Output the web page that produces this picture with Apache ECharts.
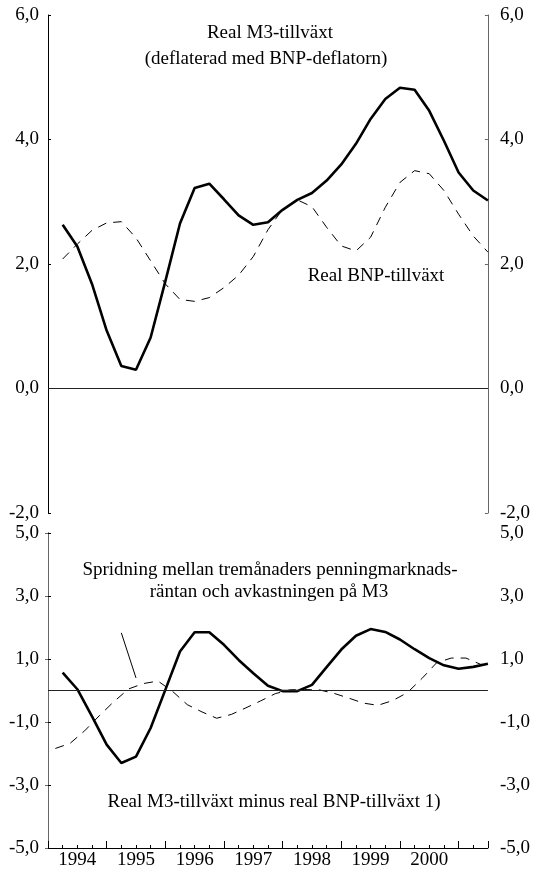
<!DOCTYPE html>
<html>
<head>
<meta charset="utf-8">
<script src="https://cdn.jsdelivr.net/npm/echarts@6/dist/echarts.min.js"></script>
<style>
  html, body { margin: 0; padding: 0; background: #fff; }
  #chart { width: 533px; height: 870px; }
</style>
</head>
<body>
<div id="chart"></div>
<script>
// Quarter positions along the time axis (0 = start of 1994, 4 quarters per year)
const quarterPos = [1, 2, 3, 4, 5, 6, 7, 8, 9, 10, 11, 12, 13, 14, 15,
                    16, 17, 18, 19, 20, 21, 22, 23, 24, 25, 26, 27, 28, 29, 30];

// Upper panel: real M3 growth (deflated with the GDP deflator) and real GDP growth, %
const realM3 = [2.63, 2.28, 1.68, 0.93, 0.36, 0.30, 0.82, 1.72, 2.65, 3.22,
                3.29, 3.04, 2.78, 2.63, 2.67, 2.87, 3.03, 3.14, 3.34, 3.60,
                3.93, 4.33, 4.65, 4.83, 4.80, 4.46, 3.98, 3.47, 3.18, 3.02];
const realBNP = [2.08, 2.32, 2.54, 2.66, 2.68, 2.42, 2.05, 1.68, 1.43, 1.40,
                 1.46, 1.62, 1.82, 2.12, 2.55, 2.88, 3.03, 2.92, 2.59, 2.29,
                 2.21, 2.43, 2.91, 3.31, 3.50, 3.45, 3.18, 2.80, 2.45, 2.19];

// Lower panel: real M3 growth minus real GDP growth
const m3MinusBnp = [0.57, 0.04, -0.82, -1.72, -2.30, -2.10, -1.19, 0.02, 1.24, 1.85,
                    1.85, 1.45, 0.97, 0.55, 0.15, -0.02, -0.02, 0.18, 0.74, 1.30,
                    1.74, 1.95, 1.86, 1.62, 1.31, 1.03, 0.80, 0.69, 0.75, 0.85];

// Lower panel: spread between the 3-month money market rate and the yield on M3
const spreadPos = [0.5, 1.5, 2.5, 3.5, 4.5, 5.5, 6.5, 7.5, 8.5, 9.5, 10.5, 11.5,
                   12.5, 13.5, 14.5, 15.5, 16.5, 17.5, 18.5, 19.5, 20.5, 21.5,
                   22.5, 23.5, 24.5, 25.5, 26.5, 27.5, 28.5, 29.5, 30];
const rateSpread = [-1.84, -1.68, -1.28, -0.80, -0.35, 0.05, 0.22, 0.30, -0.03, -0.45,
                    -0.68, -0.88, -0.76, -0.55, -0.33, -0.10, 0.02, 0.03, 0.02, -0.09,
                    -0.24, -0.40, -0.47, -0.32, -0.07, 0.38, 0.88, 1.03, 1.03, 0.83, 0.82];

// Leader line from the spread caption to its curve
const pointerLine = [[5.0, 1.83], [6.0, 0.40]];

// Axis labels
const yearLabels = ['1994', '1995', '1996', '1997', '1998', '1999', '2000'];
const topTicks = [-2, 0, 2, 4, 6];
const bottomTicks = [-5, -3, -1, 1, 3, 5];

const FONT = '"Liberation Serif", "Times New Roman", serif';
const fmt = v => Number(v).toFixed(1).replace('.', ',');
const zip = (xs, ys) => ys.map((y, i) => [xs[i], y]);

function yAxis(grid, pos, lo, hi, ticks, lineColor) {
  return {
    type: 'value', gridIndex: grid, position: pos, min: lo, max: hi,
    axisLine: { show: true, lineStyle: { color: lineColor, width: 1 } },
    axisTick: { show: true, inside: true, length: 3, customValues: ticks,
                lineStyle: { color: lineColor } },
    axisLabel: { show: true, customValues: ticks, formatter: fmt,
                 margin: pos === 'left' ? 9 : 12,
                 fontFamily: FONT, fontSize: 19, color: '#000' },
    splitLine: { show: false }
  };
}

const zeroLine = {
  silent: true, symbol: ['none', 'none'], label: { show: false },
  lineStyle: { color: '#222', width: 1, type: 'solid' },
  data: [{ yAxis: 0 }]
};

const chart = echarts.init(document.getElementById('chart'), null, { renderer: 'canvas' });

chart.setOption({
  animation: false,
  backgroundColor: '#fff',
  grid: [
    { left: 48, right: 42, top: 15, height: 498 },
    { left: 48, right: 42, top: 533, height: 315 }
  ],
  xAxis: [
    { type: 'value', gridIndex: 0, min: 0, max: 30, show: false },
    {
      type: 'value', gridIndex: 1, min: 0, max: 30, interval: 4, position: 'bottom',
      axisLine: { show: true, onZero: false, lineStyle: { color: '#000', width: 1 } },
      axisTick: { show: true, inside: true, length: 7, lineStyle: { color: '#000' } },
      minorTick: { show: true, splitNumber: 4, length: 3, lineStyle: { color: '#000' } },
      axisLabel: { show: false },
      splitLine: { show: false }
    },
    {
      type: 'value', gridIndex: 1, min: 0, max: 30, interval: 2, position: 'bottom', offset: 0,
      axisLine: { show: false, onZero: false },
      axisTick: { show: false },
      axisLabel: {
        show: true, margin: 3, fontFamily: FONT, fontSize: 19, color: '#000',
        formatter: v => (v % 4 === 2 && (v - 2) / 4 < yearLabels.length) ? yearLabels[(v - 2) / 4] : ''
      },
      splitLine: { show: false }
    }
  ],
  yAxis: [
    yAxis(0, 'left', -2, 6, topTicks, '#000'),
    yAxis(0, 'right', -2, 6, topTicks, '#666'),
    yAxis(1, 'left', -5, 5, bottomTicks, '#000'),
    yAxis(1, 'right', -5, 5, bottomTicks, '#666')
  ],
  graphic: [
    ['Real M3-tillväxt', 270, 33],
    ['(deflaterad med BNP-deflatorn)', 266, 59],
    ['Real BNP-tillväxt', 376, 276],
    ['Spridning mellan tremånaders penningmarknads-', 270, 570],
    ['räntan och avkastningen på M3', 269, 592],
    ['Real M3-tillväxt minus real BNP-tillväxt 1)', 274, 802]
  ].map(([text, x, y]) => ({
    type: 'text', x: x, y: y, silent: true,
    style: { text: text, font: '19px ' + FONT, fill: '#000',
             textAlign: 'center', textVerticalAlign: 'middle' }
  })),
  series: [
    {
      type: 'line', xAxisIndex: 0, yAxisIndex: 0, data: zip(quarterPos, realBNP),
      symbol: 'none', lineStyle: { color: '#000', width: 1, type: [9, 7] }, z: 2
    },
    {
      type: 'line', xAxisIndex: 0, yAxisIndex: 0, data: zip(quarterPos, realM3),
      symbol: 'none', lineStyle: { color: '#000', width: 2.6 }, z: 3,
      markLine: zeroLine
    },
    {
      type: 'line', xAxisIndex: 1, yAxisIndex: 2, data: zip(spreadPos, rateSpread),
      symbol: 'none', lineStyle: { color: '#000', width: 1, type: [9, 7] }, z: 2
    },
    {
      type: 'line', xAxisIndex: 1, yAxisIndex: 2, data: zip(quarterPos, m3MinusBnp),
      symbol: 'none', lineStyle: { color: '#000', width: 2.6 }, z: 3,
      markLine: zeroLine
    },
    {
      type: 'line', xAxisIndex: 1, yAxisIndex: 2, data: pointerLine,
      symbol: 'none', lineStyle: { color: '#000', width: 1 }, z: 2
    }
  ]
});
</script>
</body>
</html>
